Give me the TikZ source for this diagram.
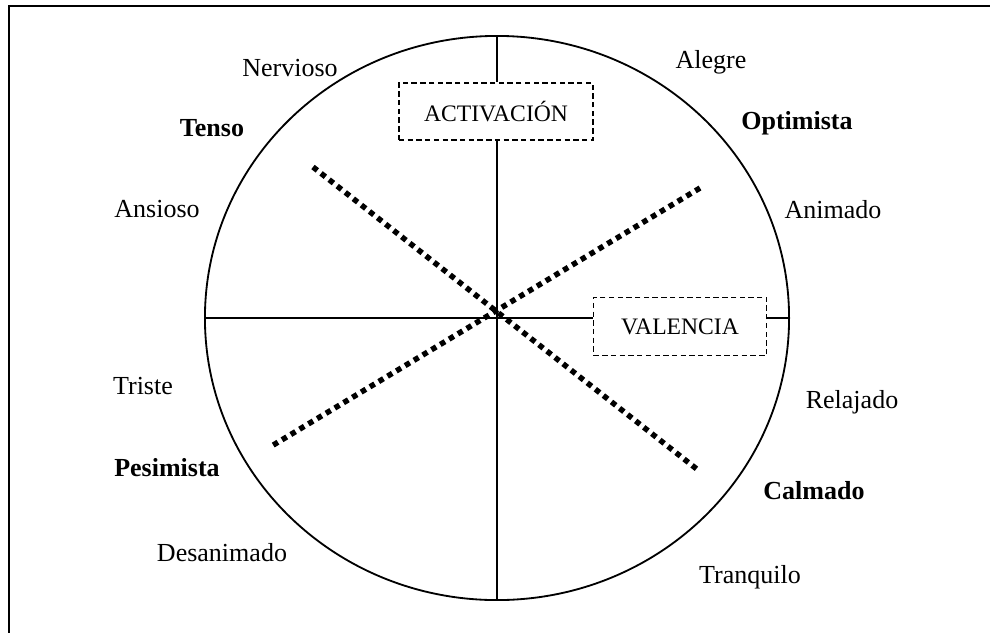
\documentclass[tikz,border=0pt]{standalone}
\usepackage{fontspec}
\setmainfont{Liberation Serif}
\begin{document}
\begin{tikzpicture}[x=0.025cm,y=-0.025cm,
  lbl/.style={font=\fontsize{18.5}{22}\selectfont, inner sep=0pt},
  blbl/.style={font=\fontsize{18.5}{22}\selectfont\bfseries, inner sep=0pt},
  axisbox/.style={draw, dash pattern=on 3.8pt off 2.4pt, line width=0.9pt, inner sep=0pt,
     font=\fontsize{16.8}{20}\selectfont},
  axisline/.style={line width=1.1pt},
  dotline/.style={line width=3.9pt, dash pattern=on 3.9pt off 3.4pt},
  frameline/.style={line width=1.1pt}]
\clip (0,0) rectangle (990,632);
\fill[white] (0,0) rectangle (990,632);
\draw[frameline] (9,6) rectangle (1010,650);
% ellipse
\coordinate (c) at (497,318);
\draw[line width=1.3pt] (c) ellipse [x radius=7.3cm, y radius=7.05cm];
\coordinate (top) at (497,36);
\coordinate (bot) at (497,600);
\coordinate (lft) at (205,318);
\coordinate (rgt) at (789,318);
% boxes
\node[axisbox, minimum width=138pt, minimum height=40.5pt] (act) at (496,111.5) {ACTIVACIÓN};
\node[axisbox, minimum width=123pt, minimum height=41.5pt] (val) at (680,326.5) {VALENCIA};
% axes
\draw[axisline] (top) -- (act.north -| top);
\draw[axisline] (act.south -| top) -- (bot);
\draw[axisline] (lft) -- (val.west |- lft);
\draw[axisline] (val.east |- rgt) -- (rgt);
% dotted diagonals
\coordinate (d1a) at (313,167);
\coordinate (d1b) at (698,470);
\coordinate (d2a) at (700,188);
\coordinate (d2b) at (270,447);
\draw[dotline] (d1a) -- (d1b);
\draw[dotline] (d2a) -- (d2b);
% labels
\node[lbl]  (nervioso) at (290,68)  {Nervioso};
\node[lbl]  (alegre)   at (711,62)  {Alegre};
\node[blbl] (tenso)    at (212,128) {Tenso};
\node[blbl] (optimista) at (797,123) {Optimista};
\node[lbl]  (ansioso)  at (157,209) {Ansioso};
\node[lbl]  (animado)  at (833,210) {Animado};
\node[lbl]  (triste)   at (143,386) {Triste};
\node[lbl]  (relajado) at (852,402) {Relajado};
\node[blbl] (pesimista) at (167,468) {Pesimista};
\node[blbl] (calmado)  at (814,491) {Calmado};
\node[lbl]  (desanimado) at (222,553) {Desanimado};
\node[lbl]  (tranquilo) at (750,577) {Tranquilo};
\end{tikzpicture}
\end{document}
